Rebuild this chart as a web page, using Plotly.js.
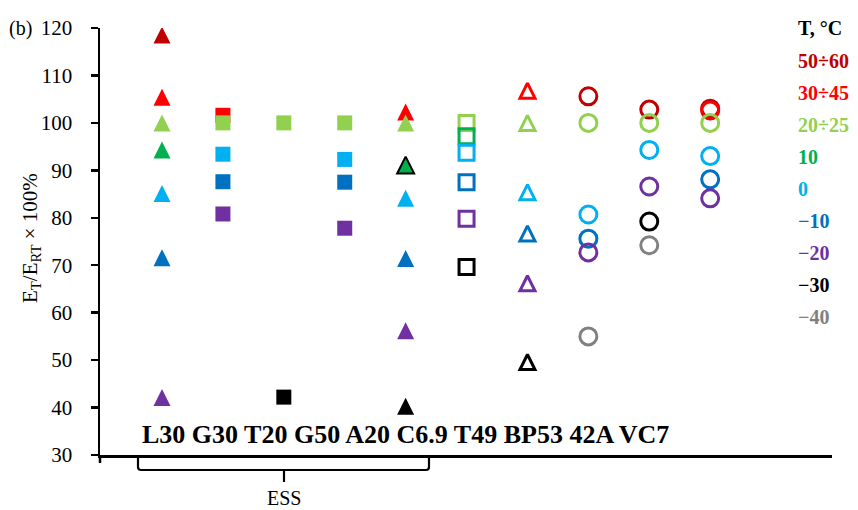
<!DOCTYPE html>
<html><head><meta charset="utf-8">
<script src="https://cdn.plot.ly/plotly-3.0.1.min.js"></script>
<style>html,body{margin:0;padding:0;background:#fff}#chart{width:858px;height:510px}</style>
</head><body><div id="chart"></div>
<script>
// ---------- data ----------
const categories = ["L30","G30","T20","G50","A20","C6.9","T49","BP53","42A","VC7"];
const seriesNames = ["50÷60","30÷45","20÷25","10","0","\u221210","\u221220","\u221230","\u221240"];
const t50_60 = [118.5, null, null, null, null, null, null, 105.6, 102.8, 103.0];
const t30_45 = [105.4, 101.6, null, null, 102.3, null, 106.8, null, null, 102.6];
const t20_25 = [100, 100, 100, 100, 100, 100, 100, 100, 100, 100];
const t10    = [94.3, null, null, null, 91.1, 97.2, null, null, null, null];
const t0     = [85.1, 93.4, null, 92.3, 84.1, 93.7, 85.4, 80.7, 94.3, 93.0];
const tm10   = [71.6, 87.6, null, 87.5, 71.4, 87.5, 76.7, 75.6, null, 88.1];
const tm20   = [42.1, 80.8, null, 77.8, 56.2, 79.8, 66.2, 72.7, 86.6, 84.1];
const tm30   = [null, null, 42.2, null, 40.3, 69.6, 49.6, null, 79.2, null];
const tm40   = [null, null, null, null, null, null, null, 55.0, 74.2, null];
const groupLabel = "ESS";
const yTitle = 'E<sub>T</sub>/E<sub>RT</sub> × 100%';

// ---------- styles ----------
const seriesValues = [t50_60, t30_45, t20_25, t10, t0, tm10, tm20, tm30, tm40];
const seriesColors = ['#C00000','#FF0000','#92D050','#00B050','#00B0F0','#0070C0','#7030A0','#000000','#808080'];
const colKind = ['tri','sq','sq','sq','tri','sqo','trio','co','co','co'];
const kindStyle = {
  tri:  {symbol:'arrow-down',      size:17, angle:180, standoff:8.5, lw:0},
  sq:   {symbol:'square',          size:15, angle:0,   standoff:0,   lw:0},
  sqo:  {symbol:'square-open',     size:15, angle:0,   standoff:0,   lw:3},
  trio: {symbol:'arrow-down-open', size:15, angle:180, standoff:7.5, lw:3},
  co:   {symbol:'circle-open',     size:17, angle:0,   standoff:0,   lw:3}
};
const FONT = 'Liberation Serif, Times New Roman, serif';

const traces = seriesValues.map((vals, si) => {
  const x=[], y=[], sym=[], size=[], ang=[], so=[], lw=[], lc=[];
  vals.forEach((v, ci) => {
    if (v === null) return;
    const k = kindStyle[colKind[ci]];
    const outlined = (si === 3 && ci === 4);
    x.push(categories[ci]); y.push(v);
    sym.push(k.symbol); size.push(k.size); ang.push(k.angle); so.push(k.standoff);
    lw.push(outlined ? 2 : k.lw);
    lc.push(outlined ? '#000000' : seriesColors[si]);
  });
  return {
    type:'scatter', mode:'markers', name:seriesNames[si], x:x, y:y,
    marker:{symbol:sym, size:size, angle:ang, standoff:so, color:seriesColors[si], opacity:1,
            line:{width:lw, color:lc}},
    hoverinfo:'x+y+name'
  };
});

// pixel -> paper helpers (plot area 100..832 x 28..455)
const PL=100, PR=832, PT=28, PB=455;
const px = v => (v-PL)/(PR-PL);
const py = v => (PB-v)/(PB-PT);

const annotations = [];
// category labels line inside plot
annotations.push({xref:'paper', yref:'paper', x:px(405), y:py(434), xanchor:'center', yanchor:'middle',
  text:'<b>'+categories.join(' ')+'</b>', showarrow:false, font:{family:FONT, size:26, color:'#000'}});
// legend-like coloured labels
annotations.push({xref:'paper', yref:'paper', x:px(796), y:py(28), xanchor:'left', yanchor:'middle',
  text:'<b>T, °C</b>', showarrow:false, font:{family:FONT, size:20, color:'#000'}});
seriesNames.forEach((n, i) => {
  annotations.push({xref:'paper', yref:'paper', x:px(796), y:py(61 + i*32.0), xanchor:'left', yanchor:'middle',
    text:'<b>'+n+'</b>', showarrow:false, font:{family:FONT, size:20, color:seriesColors[i]}});
});
// panel tag
annotations.push({xref:'paper', yref:'paper', x:px(7), y:py(28), xanchor:'left', yanchor:'middle',
  text:'(b)', showarrow:false, font:{family:FONT, size:20, color:'#000'}});
// y axis title
annotations.push({xref:'paper', yref:'paper', x:px(31), y:py(238), xanchor:'center', yanchor:'middle',
  text:yTitle, textangle:-90, showarrow:false, font:{family:FONT, size:21, color:'#000'}});
// group label
annotations.push({xref:'paper', yref:'paper', x:px(284), y:py(498), xanchor:'center', yanchor:'middle',
  text:groupLabel, showarrow:false, font:{family:FONT, size:20, color:'#000'}});

const P = (x, y) => px(x).toFixed(5) + ',' + py(y).toFixed(5);
const shapes = [
  {type:'path', xref:'paper', yref:'paper',
   path:'M'+P(138,455)+' L'+P(138,467)+' Q'+P(138,470)+' '+P(141,470)+' L'+P(426,470)+' Q'+P(429,470)+' '+P(429,467)+' L'+P(429,455),
   line:{color:'#000', width:2.2}},
  {type:'line', xref:'paper', yref:'paper', x0:px(284), x1:px(284), y0:py(470), y1:py(482), line:{color:'#000', width:2.2}},
  {type:'line', xref:'paper', yref:'paper', x0:0, x1:0, y0:0, y1:py(463), line:{color:'#000', width:2.5}}
];

const layout = {
  width:858, height:510,
  margin:{l:PL, r:858-PR, t:PT, b:510-PB},
  paper_bgcolor:'#fff', plot_bgcolor:'#fff',
  showlegend:false,
  font:{family:FONT, color:'#000'},
  xaxis:{type:'category', categoryorder:'array', categoryarray:categories, range:[-1.018, 11.0],
    showline:true, linewidth:2.5, linecolor:'#000', showgrid:false, zeroline:false,
    showticklabels:false, ticks:'', fixedrange:true},
  yaxis:{range:[30,120], tick0:30, dtick:10, showline:true, linewidth:2.5, linecolor:'#000',
    ticks:'outside', ticklen:7, tickwidth:2.5, tickcolor:'#000', showgrid:false, zeroline:false,
    ticklabelstandoff:14,
    tickfont:{family:FONT, size:21, color:'#000'},
    fixedrange:true},
  annotations:annotations,
  shapes:shapes
};

Plotly.newPlot('chart', traces, layout, {displayModeBar:false, staticPlot:true});
</script>
</body></html>
